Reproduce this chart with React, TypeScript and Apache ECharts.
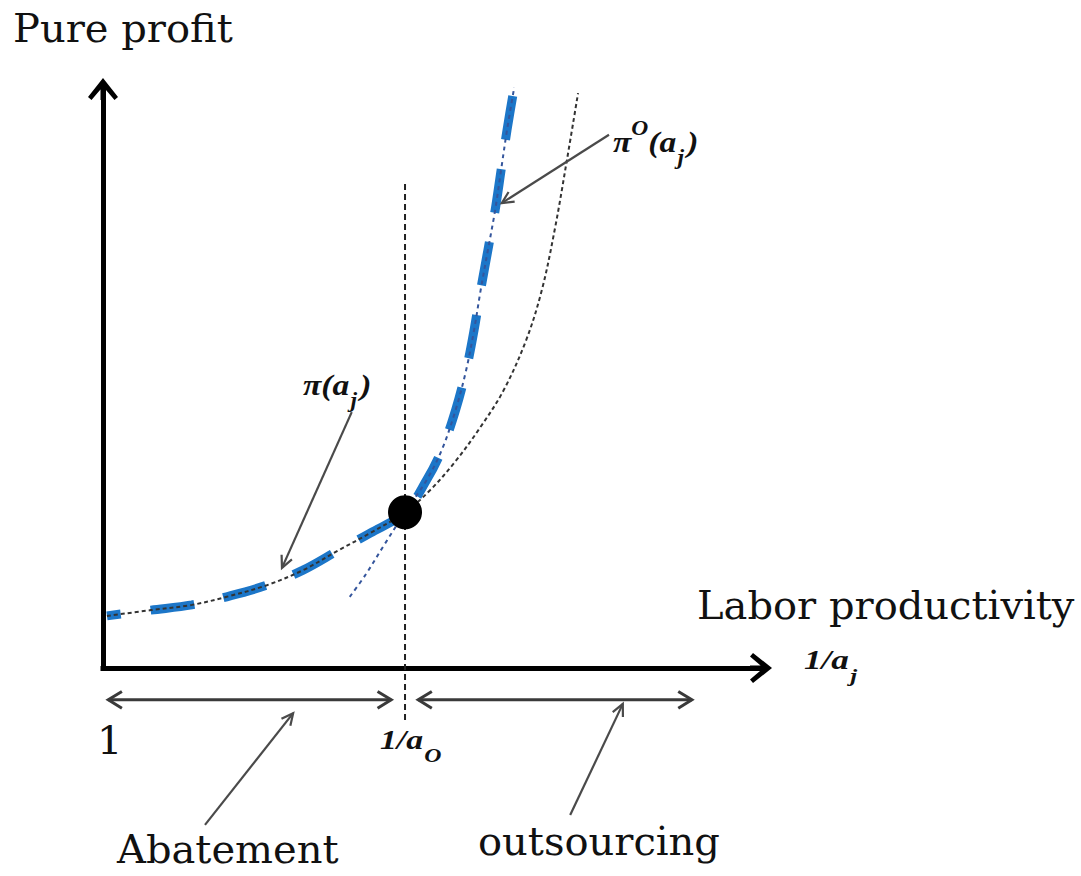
import React, { useEffect, useRef } from "react";
import * as echarts from "echarts";

// axis ranges (data units)
const X_MAX = 10;
const Y_MAX = 10;

// pi(a_j): profit curve (black dotted)
const piX = [0.06, 0.73, 1.35, 1.88, 2.49, 3.04, 3.59, 4.06, 4.59, 4.97, 5.35, 5.73, 6.09, 6.43, 6.67, 6.87, 7.05, 7.22];
const piY = [0.9, 1.0, 1.09, 1.23, 1.43, 1.69, 2.04, 2.33, 2.69, 3.07, 3.56, 4.15, 4.8, 5.66, 6.53, 7.6, 8.77, 9.93];

// pi^O(a_j): outsourcing profit curve (blue dotted)
const piOX = [3.75, 3.99, 4.27, 4.59, 4.92, 5.15, 5.36, 5.52, 5.64, 5.74, 5.85, 5.96, 6.05, 6.14, 6.25];
const piOY = [1.23, 1.61, 2.12, 2.69, 3.25, 3.77, 4.46, 5.15, 5.84, 6.53, 7.22, 7.91, 8.6, 9.29, 10.03];

// threshold 1/a_O
const cutoffX = 4.59;
const cutoffY = 2.69;
const cutoffTop = 8.36;
const cutoffBottom = -0.93;

// arrows: [x1, y1, x2, y2, doubleHeaded]
const pointerArrows = [
  [3.78, 4.42, 2.72, 1.73, 0],
  [7.69, 9.21, 6.06, 8.03, 0],
  [1.55, -2.71, 2.89, -0.78, 0],
  [7.1, -2.54, 7.9, -0.62, 0],
];
const rangeArrows = [
  [0.08, -0.55, 4.38, -0.55, 1],
  [4.79, -0.55, 8.95, -0.55, 1],
];

// labels
const yTitle = "Pure profit";
const xTitle = "Labor productivity";
const originLabel = "1";
const leftRegion = "Abatement";
const rightRegion = "outsourcing";

const ARROW =
  "path://M15,0 L30,19 L26.5,22 L15,8.5 L3.5,22 L0,19 Z M12.5,6 L17.5,6 L17.5,22 L12.5,22 Z";

const SERIF = '40px "DejaVu Serif"';
const mathBase = {
  fontFamily: "Liberation Serif",
  fontWeight: "bold",
  fontStyle: "italic",
  fill: "#111",
};
const mathRich = (size: number) => ({
  m: { ...mathBase, fontSize: size, lineHeight: 50, verticalAlign: "middle" },
  sub: {
    ...mathBase,
    fontSize: Math.round(size * 0.7),
    lineHeight: 30,
    verticalAlign: "bottom",
    padding: [0, 3, 0, 1],
  },
  sup: { ...mathBase, fontSize: Math.round(size * 0.7), lineHeight: 26, verticalAlign: "top" },
});

export default function App() {
  const ref = useRef<HTMLDivElement>(null);

  useEffect(() => {
    if (!ref.current) return;
    const chart = echarts.init(ref.current, undefined, { renderer: "svg" });

    const piData = piX.map((x, i) => [x, piY[i]]);
    const piOData = piOX.map((x, i) => [x, piOY[i]]);
    const envelope = [
      ...piData.filter((p) => p[0] <= cutoffX),
      ...piOData.filter((p) => p[0] > cutoffX),
    ];

    const axisCommon = {
      type: "value" as const,
      axisTick: { show: false },
      axisLabel: { show: false },
      splitLine: { show: false },
      axisLine: {
        show: true,
        onZero: false,
        symbol: ["none", ARROW],
        symbolSize: [30, 22],
        lineStyle: { color: "#000", width: 5, cap: "square" },
      },
    };

    const text = (t: string, x: number, y: number) => ({
      type: "text",
      x,
      y,
      style: {
        text: t,
        font: SERIF,
        fill: "#111",
        align: "left",
        verticalAlign: "middle",
      },
    });

    const math = (t: string, x: number, y: number, size: number, sx: number) => ({
      type: "text",
      x,
      y,
      scaleX: sx,
      style: {
        text: t,
        rich: mathRich(size),
        fill: "#111",
        align: "left",
        verticalAlign: "middle",
      },
    });

    chart.setOption({
      animation: false,
      backgroundColor: "#fff",
      grid: { left: 103, top: 89, width: 658, height: 579, outerBoundsMode: "none" },
      xAxis: { ...axisCommon, min: 0, max: X_MAX },
      yAxis: { ...axisCommon, min: 0, max: Y_MAX },
      series: [
        {
          name: "envelope",
          type: "line",
          data: envelope,
          symbol: "none",
          smooth: 0.35,
          clip: false,
          z: 2,
          lineStyle: { color: "#1c76c8", width: 9, type: [44, 30], dashOffset: 30 },
        },
        {
          name: "pi",
          type: "line",
          data: piData,
          symbol: "none",
          smooth: 0.35,
          clip: false,
          z: 3,
          lineStyle: { color: "#333", width: 2, type: [4, 3] },
        },
        {
          name: "piO",
          type: "line",
          data: piOData,
          symbol: "none",
          smooth: 0.35,
          clip: false,
          z: 3,
          lineStyle: { color: "#34559c", width: 2, type: [4, 4] },
        },
        {
          name: "threshold",
          type: "line",
          data: [
            [cutoffX, cutoffTop],
            [cutoffX, cutoffBottom],
          ],
          symbol: "none",
          clip: false,
          z: 3,
          lineStyle: { color: "#222", width: 2, type: [6, 4] },
        },
        {
          name: "switch point",
          type: "scatter",
          data: [[cutoffX, cutoffY]],
          symbolSize: 34,
          itemStyle: { color: "#000", opacity: 1 },
          clip: false,
          z: 10,
        },
        {
          name: "arrows",
          type: "custom",
          data: [...pointerArrows, ...rangeArrows],
          clip: false,
          z: 5,
          renderItem: (params: any, api: any) => {
            const a = api.coord([api.value(0), api.value(1)]);
            const b = api.coord([api.value(2), api.value(3)]);
            const both = api.value(4) === 1;
            const ang = Math.atan2(b[1] - a[1], b[0] - a[0]);
            const len = both ? 16 : 13;
            const spread = both ? 0.55 : 0.45;
            const head = (p: number[], t: number) => [
              [p[0] - len * Math.cos(t - spread), p[1] - len * Math.sin(t - spread)],
              [p[0], p[1]],
              [p[0] - len * Math.cos(t + spread), p[1] - len * Math.sin(t + spread)],
            ];
            const style = {
              stroke: both ? "#3a3a3a" : "#4a4a4a",
              lineWidth: both ? 3 : 2.2,
              fill: "none",
            };
            const children: any[] = [
              { type: "line", shape: { x1: a[0], y1: a[1], x2: b[0], y2: b[1] }, style },
              { type: "polyline", shape: { points: head(b, ang) }, style },
            ];
            if (both) children.push({ type: "polyline", shape: { points: head(a, ang + Math.PI) }, style });
            return { type: "group", children };
          },
        },
      ],
      graphic: [
        text(yTitle, 13, 28),
        text(xTitle, 697, 605),
        text(originLabel, 97, 740),
        text(leftRegion, 117, 849),
        text(rightRegion, 478, 841),
        math("{m|π(a}{sub|j}{m|)}", 303, 385, 30, 1.12),
        math("{m|π}{sup|O}{m|(a}{sub|j}{m|)}", 613, 142, 30, 1.12),
        math("{m|1/a}{sub|j}", 804, 660, 27, 1.3),
        math("{m|1/a}{sub|O}", 380, 740, 27, 1.25),
      ],
    });

    return () => chart.dispose();
  }, []);

  return (
    <div
      ref={ref}
      style={{ position: "absolute", left: 0, top: 0, width: 1081, height: 876 }}
    />
  );
}
